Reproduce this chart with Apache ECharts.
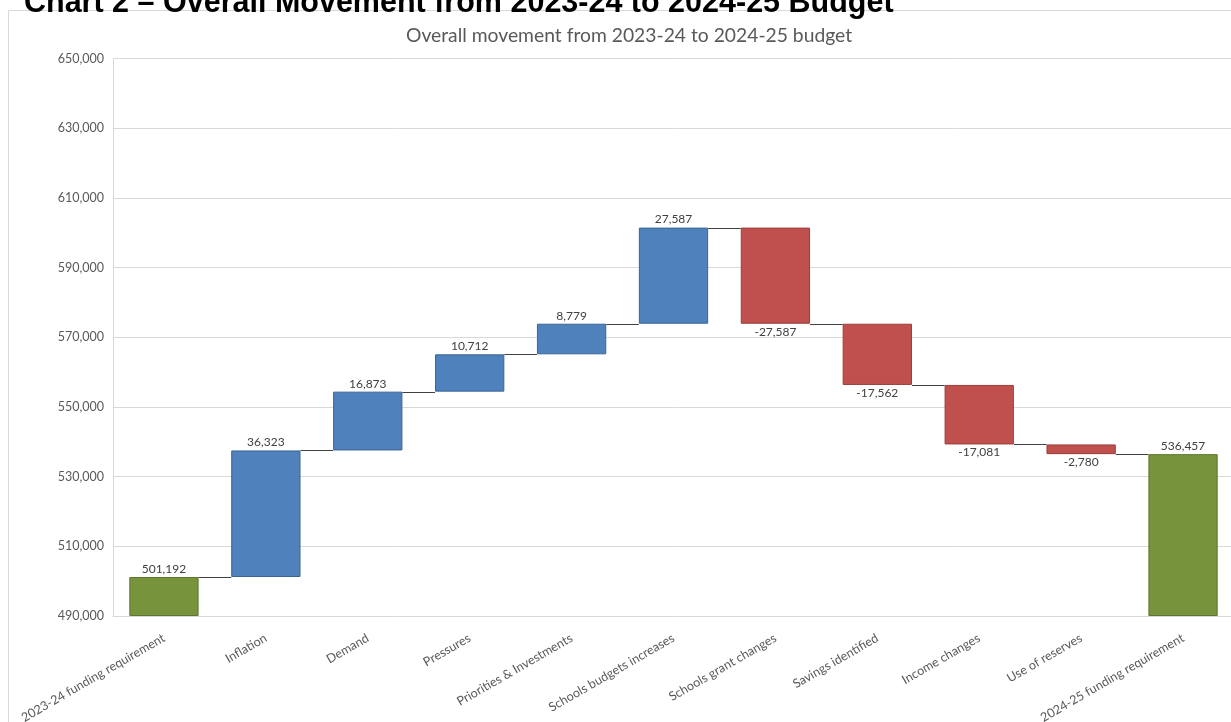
<!DOCTYPE html>
<html>
<head>
<meta charset="utf-8">
<script src="https://cdn.jsdelivr.net/npm/echarts@6/dist/echarts.min.js"></script>
<style>
html,body{margin:0;padding:0;background:#fff;}
#chart{width:1231px;height:722px;}
</style>
</head>
<body>
<div id="chart"></div>
<script>
// ---- data ----
const categories = [
  '2023-24 funding requirement', 'Inflation', 'Demand', 'Pressures',
  'Priorities & Investments', 'Schools budgets increases', 'Schools grant changes',
  'Savings identified', 'Income changes', 'Use of reserves', '2024-25 funding requirement'
];
// 'total' items are absolute values, others are changes
const kinds = ['total','delta','delta','delta','delta','delta','delta','delta','delta','delta','total'];
const values = [501192, 36323, 16873, 10712, 8779, 27587, -27587, -17562, -17081, -2780, 536457];
const yTickLabels = ['490,000','510,000','530,000','550,000','570,000','590,000','610,000','630,000','650,000'];
const axisBase = 490000;
const axisTop = 650000;
const axisStep = 20000;

// ---- build waterfall ----
const colors = { total: '#77933C', up: '#4F81BD', down: '#C0504D' };
const borders = { total: '#5E7530', up: '#3B6596', down: '#9A3D3A' };
const fmt = v => (v < 0 ? '-' : '') + Math.abs(v).toLocaleString('en-US');

const baseData = [], barData = [], levels = [];
let running = 0;
values.forEach((v, i) => {
  let lo, hi, key;
  if (kinds[i] === 'total') {
    lo = axisBase; hi = v; running = v; key = 'total';
  } else {
    const before = running, after = running + v;
    lo = Math.min(before, after); hi = Math.max(before, after);
    running = after; key = v >= 0 ? 'up' : 'down';
  }
  levels.push(running);
  baseData.push(lo - axisBase);
  barData.push({
    value: hi - lo,
    itemStyle: { color: colors[key], borderColor: borders[key], borderWidth: 1 },
    label: {
      show: true,
      position: key === 'down' ? 'bottom' : 'top',
      distance: 2,
      formatter: fmt(v)
    }
  });
});
const connectorData = levels.slice(0, -1).map((lv, i) => [i, lv - axisBase]);
const BAR_FRAC = 0.68;

const chart = echarts.init(document.getElementById('chart'));
const font = 'Lato, "Open Sans", sans-serif';
chart.setOption({
  animation: false,
  backgroundColor: '#fff',
  textStyle: { fontFamily: font },
  title: [
    {
      text: 'Chart 2 \u2013 Overall Movement from 2023-24 to 2024-25 Budget',
      left: 19, top: -17,
      textStyle: { fontFamily: '"Liberation Sans", Arial, sans-serif', fontWeight: 'bold', fontSize: 30.5, color: '#000' }
    },
    {
      text: 'Overall movement from 2023-24 to 2024-25 budget',
      left: 401, top: 21,
      textStyle: { fontFamily: font, fontWeight: 'normal', fontSize: 19.3, color: '#595959' }
    }
  ],
  graphic: [{
    type: 'rect', z: -10, silent: true,
    shape: { x: 8.5, y: 10.5, width: 1240, height: 730 },
    style: { fill: 'none', stroke: '#d9d9d9', lineWidth: 1 }
  }],
  grid: { left: 113, right: -3, top: 58.5, bottom: 106, containLabel: false, outerBoundsMode: 'none' },
  xAxis: {
    type: 'category',
    data: categories,
    axisLine: { show: true, lineStyle: { color: '#d9d9d9' } },
    axisTick: { show: false },
    axisLabel: { interval: 0, rotate: 30, color: '#595959', fontSize: 12.5, fontFamily: font, margin: 21 }
  },
  yAxis: {
    type: 'value',
    min: 0, max: axisTop - axisBase, interval: axisStep,
    axisLine: { show: true, lineStyle: { color: '#d9d9d9' } },
    axisTick: { show: false },
    splitLine: { lineStyle: { color: '#d9d9d9' } },
    axisLabel: {
      color: '#595959', fontSize: 12.5, fontFamily: font, margin: 9,
      formatter: v => yTickLabels[Math.round(v / axisStep)]
    }
  },
  series: [
    {
      type: 'bar', stack: 'wf', data: baseData, barWidth: (BAR_FRAC * 100) + '%',
      itemStyle: { color: 'transparent' }, silent: true
    },
    {
      type: 'bar', stack: 'wf', data: barData, barWidth: (BAR_FRAC * 100) + '%',
      label: { color: '#404040', fontSize: 12, fontFamily: font }
    },
    {
      type: 'custom',
      data: connectorData,
      z: 5,
      renderItem: function (params, api) {
        const i = api.value(0);
        const p = api.coord([i, api.value(1)]);
        const cw = api.size([1, 0])[0];
        const half = cw * BAR_FRAC / 2;
        const y = Math.round(p[1]) + 0.5;
        return {
          type: 'line',
          shape: { x1: p[0] + half, y1: y, x2: p[0] + cw - half, y2: y },
          style: { stroke: '#404040', lineWidth: 1 }
        };
      }
    }
  ]
});
</script>
</body>
</html>
